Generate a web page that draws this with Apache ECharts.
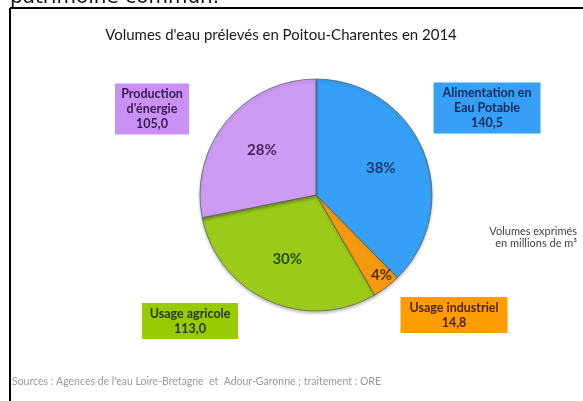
<!DOCTYPE html>
<html><head><meta charset="utf-8">
<script src="https://cdn.jsdelivr.net/npm/echarts@6/dist/echarts.min.js"></script>
<style>html,body{margin:0;padding:0;background:#fff}#c{width:583px;height:401px}</style>
</head><body><div id="c"></div>
<script>
const categories = ["Alimentation en\nEau Potable", "Usage industriel", "Usage agricole", "Production\nd'énergie"];
const values = [140.5, 14.8, 113.0, 105.0];
const titleText = "Volumes d'eau prélevés en Poitou-Charentes en 2014";
const unitText = "Volumes exprimés\nen millions de m³";
const sourceText = "Sources : Agences de l'eau Loire-Bretagne  et  Adour-Garonne ; traitement : ORE";

const sliceColors = ['#35a0f5', '#f59a0f', '#9acb19', '#cc9cf5'];
const boxColors = ['#35a0f5', '#ff9d00', '#99cc00', '#c990f5'];
const boxText = ['#142a5c', '#4a2500', '#243a00', '#3a1a50'];
const pctText = ['#1c3a70', '#5a3000', '#2e4a10', '#4a2060'];
const boxPos = [[487, 108], [454, 315], [190, 321], [152, 109]];
const boxSize = [[99, 45], [99, 30], [88, 30], [66, 45]];
const CX = 316, CY = 195, R = 116;
const FONT = 'Lato, "Open Sans", sans-serif';

const fmt = v => v.toFixed(1).replace('.', ',');
const chart = echarts.init(document.getElementById('c'));

chart.setOption({
  backgroundColor: '#fff',
  animation: false,
  graphic: [
    { type: 'text', left: 10, top: -12, style: { text: 'patrimoine commun.', font: '20px "DejaVu Sans", sans-serif', fill: '#111' } },
    { type: 'line', shape: { x1: 10, y1: 8, x2: 583, y2: 8 }, style: { stroke: '#000', lineWidth: 2 } },
    { type: 'line', shape: { x1: 10, y1: 8, x2: 10, y2: 401 }, style: { stroke: '#000', lineWidth: 2 } },
    { type: 'text', x: 577, y: 225, style: { text: unitText, font: '11px ' + FONT, fill: '#444', align: 'right', lineHeight: 12 } },
    { type: 'text', x: 12, y: 376, style: { text: sourceText, font: '10.5px ' + FONT, fill: '#9a9a9a' } }
  ],
  title: {
    text: titleText, left: 276, top: 23, textAlign: 'center',
    textStyle: { fontFamily: FONT, fontSize: 15, fontWeight: 'normal', color: '#1a1a1a' }
  },
  series: [
    {
      type: 'pie', center: [CX, CY], radius: [0, R], startAngle: 90, clockwise: true,
      silent: true,
      itemStyle: { borderColor: '#555', borderWidth: 0.7, shadowColor: 'rgba(0,0,0,0.25)', shadowBlur: 3, shadowOffsetY: 2 },
      label: { show: false }, labelLine: { show: false },
      data: categories.map((n, i) => ({ name: n, value: values[i], itemStyle: { color: sliceColors[i] } }))
    },
    {
      type: 'pie', center: [CX, CY], radius: [0, R * 1.155], startAngle: 90, clockwise: true,
      silent: true, z: 5,
      itemStyle: { color: 'rgba(0,0,0,0)', borderWidth: 0 },
      label: {
        show: true, position: 'inside', fontFamily: FONT, fontWeight: 'bold', fontSize: 15,
        formatter: p => Math.round(p.percent) + '%'
      },
      labelLine: { show: false },
      labelLayout: p => (p.dataIndex === 1 ? { dx: 23, dy: 25 } : {}),
      data: categories.map((n, i) => ({ name: n, value: values[i], label: { color: pctText[i] } }))
    },
    {
      type: 'pie', center: [CX, CY], radius: [0, R], startAngle: 90, clockwise: true,
      silent: true, z: 6,
      itemStyle: { color: 'rgba(0,0,0,0)', borderWidth: 0 },
      label: {
        show: true, position: 'outside', fontFamily: FONT, fontWeight: 'bold', fontSize: 12.5,
        lineHeight: 15, align: 'center', verticalAlign: 'middle', padding: [3, 4], overflow: 'none',
        formatter: p => p.name + '\n' + fmt(p.value)
      },
      labelLine: { show: false },
      labelLayout: p => ({ x: boxPos[p.dataIndex][0], y: boxPos[p.dataIndex][1], align: 'center', verticalAlign: 'middle' }),
      data: categories.map((n, i) => ({
        name: n, value: values[i],
        label: { color: boxText[i], backgroundColor: boxColors[i], width: boxSize[i][0], height: boxSize[i][1] }
      }))
    }
  ]
});
</script></body></html>
